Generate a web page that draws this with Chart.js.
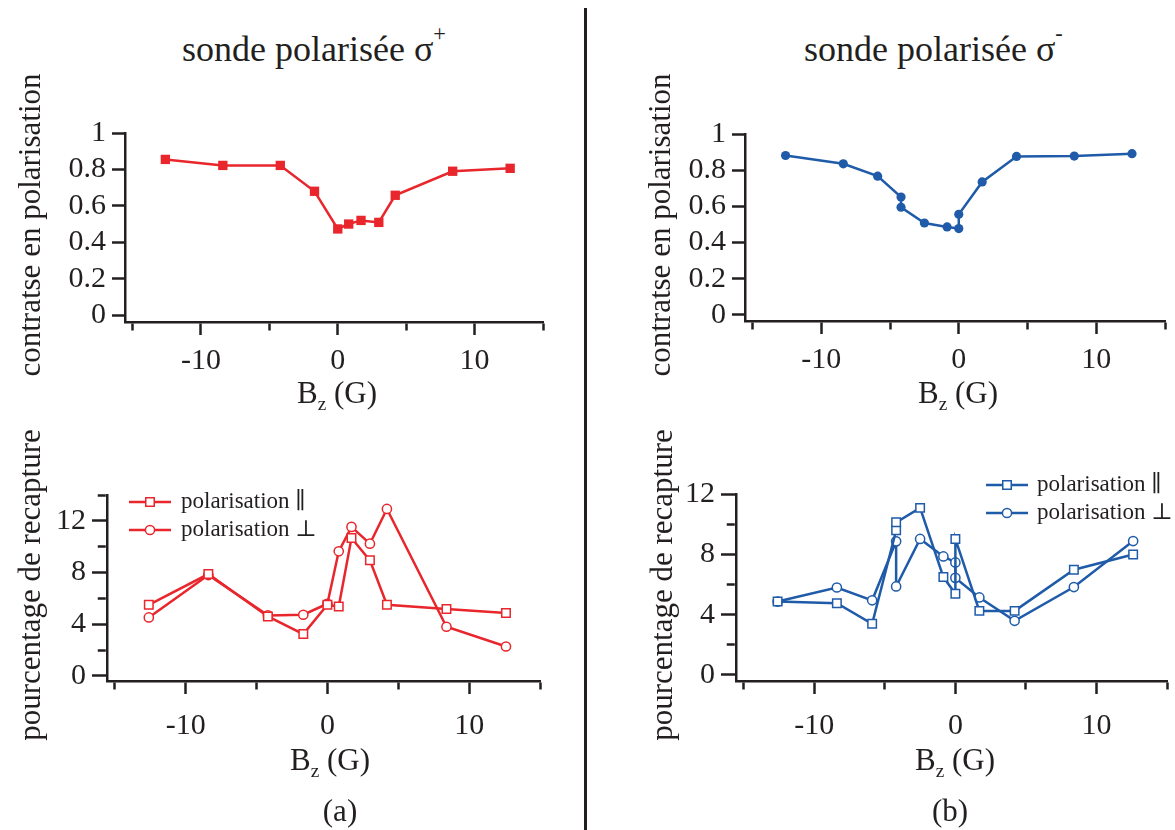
<!DOCTYPE html>
<html lang="fr">
<head>
<meta charset="UTF-8" />
<title>Contraste et recapture en fonction de Bz</title>
<script src="https://cdn.jsdelivr.net/npm/chart.js"></script>
<style>
  body { margin: 0; background: #fff; font-family: "Liberation Serif", "Times New Roman", "DejaVu Serif", serif; color: #231f20; }
  #page { position: relative; width: 1175px; height: 830px; overflow: hidden; }
  canvas { position: absolute; }
  .txt { position: absolute; white-space: nowrap; line-height: 1; }
  .title { font-size: 36px; }
  .axis { font-size: 31px; transform: translate(-50%, -50%); }
  .yaxis { font-size: 31px; transform: translate(-50%, -50%) rotate(-90deg); }
  sup { font-size: 0.62em; vertical-align: 0.9em; }
  sub { font-size: 0.62em; vertical-align: -0.35em; }
  #sep { position: absolute; left: 584px; top: 8px; width: 3px; height: 822px; background: #231f20; }
</style>
</head>
<body>
<div id="page">
  <div class="txt title" style="left:182px; top:23px;">sonde polarisée σ<sup>+</sup></div>
  <div class="txt title" style="left:804px; top:23px;">sonde polarisée σ<sup>-</sup></div>
  <div id="sep"></div>

  <canvas id="contrastPlus"></canvas>
  <canvas id="contrastMinus"></canvas>
  <canvas id="recapPlus"></canvas>
  <canvas id="recapMinus"></canvas>

  <div class="txt yaxis" style="left:29px; top:225px;">contratse en polarisation</div>
  <div class="txt yaxis" style="left:659px; top:225px;">contratse en polarisation</div>
  <div class="txt yaxis" style="left:29px; top:585px;">pourcentage de recapture</div>
  <div class="txt yaxis" style="left:661px; top:585px;">pourcentage de recapture</div>

  <div class="txt axis" style="left:337px; top:395px;">B<sub>z</sub> (G)</div>
  <div class="txt axis" style="left:958px; top:395px;">B<sub>z</sub> (G)</div>
  <div class="txt axis" style="left:330px; top:762px;">B<sub>z</sub> (G)</div>
  <div class="txt axis" style="left:955px; top:762px;">B<sub>z</sub> (G)</div>

  <div class="txt axis" style="left:340px; top:810px;">(a)</div>
  <div class="txt axis" style="left:950px; top:810px;">(b)</div>
</div>

<script>
  const INK = '#231f20';
  const RED = '#e8262c';
  const BLUE = '#1f5ba8';
  const SERIF = '"Liberation Serif", "Times New Roman", "DejaVu Serif", serif';

  // champ Bz (G), sonde sigma+
  const bzPlus = [-12.6, -8.4, -4.2, -1.7, 0, 0.8, 1.7, 3.0, 4.2, 8.4, 12.6];
  const contrastPlus = [0.855, 0.822, 0.822, 0.68, 0.473, 0.50, 0.52, 0.509, 0.658, 0.79, 0.806];
  const recapParPlus = [5.5, 7.88, 4.6, 3.23, 5.5, 5.37, 10.67, 8.94, 5.5, 5.17, 4.86];
  const recapPerpPlus = [4.52, 7.8, 4.68, 4.73, 5.58, 9.64, 11.53, 10.23, 12.92, 3.8, 2.27];

  // champ Bz (G), sonde sigma-
  const bzMinus = [-12.6, -8.4, -5.9, -4.2, -4.2, -2.5, -0.85, 0, 0, 1.7, 4.2, 8.4, 12.6];
  const contrastMinus = [0.881, 0.835, 0.767, 0.651, 0.595, 0.508, 0.486, 0.477, 0.556, 0.735, 0.876, 0.878, 0.891];
  const recapParMinus = [4.87, 4.76, 3.39, 9.59, 10.12, 11.08, 6.49, 5.38, 9.02, 4.25, 4.25, 6.98, 7.99];
  const recapPerpMinus = [4.87, 5.8, 4.95, 8.86, 5.87, 9.02, 7.86, 7.46, 6.44, 5.14, 3.59, 5.83, 8.88];

  const xTicks = [-15, -10, -5, 0, 5, 10, 15];
  const contrastTicks = [0, 0.2, 0.4, 0.6, 0.8, 1];
  const recapTicksPlus = [0, 2, 4, 6, 8, 10, 12, 14];
  const recapTicksMinus = [0, 2, 4, 6, 8, 10, 12];

  const legendLabels = ['polarisation \u2225', 'polarisation \u22A5'];

  Chart.defaults.font.family = SERIF;

  const pts = (xs, ys) => xs.map((x, i) => ({ x: x, y: ys[i] }));

  // line + marker legend, drawn like the data
  const lineLegend = {
    id: 'lineLegend',
    afterDraw(chart, args, o) {
      const ctx = chart.ctx, a = chart.chartArea;
      ctx.save();
      chart.data.datasets.forEach((ds, i) => {
        const y = a.top + o.y + i * o.row;
        const x0 = a.left + o.x;
        const xm = x0 + o.len / 2;
        ctx.strokeStyle = ds.borderColor;
        ctx.lineWidth = ds.borderWidth;
        ctx.beginPath();
        ctx.moveTo(x0, y);
        ctx.lineTo(x0 + o.len, y);
        ctx.stroke();
        ctx.fillStyle = '#fff';
        ctx.lineWidth = ds.pointBorderWidth;
        ctx.beginPath();
        if (ds.pointStyle === 'rect') {
          const s = ds.pointRadius * Math.SQRT1_2;
          ctx.rect(xm - s, y - s, 2 * s, 2 * s);
        } else {
          ctx.arc(xm, y, ds.pointRadius, 0, Math.PI * 2);
        }
        ctx.fill();
        ctx.stroke();
        ctx.fillStyle = INK;
        ctx.font = '23px ' + SERIF;
        ctx.textBaseline = 'middle';
        ctx.fillText(ds.label, a.left + o.tx, y);
      });
      ctx.restore();
    }
  };

  const L = 90, R = 20, B = 100;

  function panel(id, area, o) {
    const cv = document.getElementById(id);
    cv.width = area.right - area.left + L + R;
    cv.height = area.bottom - area.top + o.padTop + B;
    cv.style.left = (area.left - L) + 'px';
    cv.style.top = (area.top - o.padTop) + 'px';
    return new Chart(cv, {
      type: 'scatter',
      data: { datasets: o.datasets },
      options: {
        responsive: false,
        animation: false,
        devicePixelRatio: 1,
        layout: { padding: { top: o.padTop, right: R, left: 0, bottom: 0 } },
        plugins: {
          legend: { display: false },
          tooltip: { enabled: false },
          lineLegend: o.legend || false
        },
        scales: {
          x: {
            type: 'linear',
            min: -15.55,
            max: 15,
            afterBuildTicks: s => { s.ticks = xTicks.map(v => ({ value: v })); },
            afterFit: s => { s.height = B; },
            ticks: {
              autoSkip: false, maxRotation: 0, padding: o.xPad, color: INK,
              font: { size: 30 },
              callback: v => (v % 10 === 0 ? String(v) : '')
            },
            grid: {
              drawOnChartArea: false, drawTicks: true, tickLength: 13, tickWidth: 2.5, tickColor: INK,
              tickBorderDash: c => (c.tick && c.tick.value % 10 !== 0 ? [7, 60] : [])
            },
            border: { display: true, color: INK, width: 2.5 }
          },
          y: {
            type: 'linear',
            min: o.yMin,
            max: o.yMax,
            afterBuildTicks: s => { s.ticks = o.yTicks.map(v => ({ value: v })); },
            afterFit: s => { s.width = L; },
            ticks: { autoSkip: false, padding: 6, color: INK, font: { size: 30, lineHeight: 1 }, callback: o.yLabel },
            grid: {
              drawOnChartArea: false, drawTicks: true, tickLength: o.yTickLen, tickWidth: 2.5, tickColor: INK,
              tickBorderDash: o.yDash || []
            },
            border: { display: true, color: INK, width: 2.5 }
          }
        }
      },
      plugins: [lineLegend]
    });
  }

  const openSet = (label, xs, ys, color, style, r) => ({
    label: label, data: pts(xs, ys), showLine: true, clip: false,
    borderColor: color, borderWidth: 2.5,
    pointStyle: style, pointRadius: r, pointBorderWidth: 1.5,
    pointBorderColor: color, pointBackgroundColor: '#fff'
  });

  const recapLabel = v => (v % 4 === 0 && v <= 12 ? String(v) : '');
  const recapDash = c => (c.tick && c.tick.value % 4 !== 0 ? [0, 5.75, 8, 60] : []);

  panel('contrastPlus', { left: 125, top: 133, right: 543, bottom: 322 }, {
    padTop: 30, xPad: 8, yMin: -0.038, yMax: 1, yTicks: contrastTicks, yTickLen: 13,
    yLabel: v => String(v),
    datasets: [{
      label: 'contraste', data: pts(bzPlus, contrastPlus), showLine: true, clip: false,
      borderColor: RED, backgroundColor: RED, borderWidth: 2.5,
      pointStyle: 'rect', pointRadius: 6.6, pointBorderWidth: 0
    }]
  });

  panel('contrastMinus', { left: 745, top: 134, right: 1165, bottom: 321 }, {
    padTop: 30, xPad: 8, yMin: -0.034, yMax: 1, yTicks: contrastTicks, yTickLen: 13,
    yLabel: v => String(v),
    datasets: [{
      label: 'contraste', data: pts(bzMinus, contrastMinus), showLine: true, clip: false,
      borderColor: BLUE, backgroundColor: BLUE, borderWidth: 2.5,
      pointStyle: 'circle', pointRadius: 4.6, pointBorderWidth: 0
    }]
  });

  panel('recapPlus', { left: 107, top: 495, right: 540, bottom: 681 }, {
    padTop: 30, xPad: 14, yMin: -0.4, yMax: 14, yTicks: recapTicksPlus, yTickLen: 15,
    yLabel: recapLabel, yDash: recapDash,
    legend: { x: 22, len: 42, y: 7, row: 28, tx: 74 },
    datasets: [
      openSet(legendLabels[0], bzPlus, recapParPlus, RED, 'rect', 6),
      openSet(legendLabels[1], bzPlus, recapPerpPlus, RED, 'circle', 4.6)
    ]
  });

  panel('recapMinus', { left: 736, top: 494, right: 1167, bottom: 681 }, {
    padTop: 30, xPad: 14, yMin: -0.4, yMax: 12, yTicks: recapTicksMinus, yTickLen: 15,
    yLabel: recapLabel, yDash: recapDash,
    legend: { x: 250, len: 42, y: -9, row: 28, tx: 301 },
    datasets: [
      openSet(legendLabels[0], bzMinus, recapParMinus, BLUE, 'rect', 6),
      openSet(legendLabels[1], bzMinus, recapPerpMinus, BLUE, 'circle', 4.6)
    ]
  });
</script>
</body>
</html>
